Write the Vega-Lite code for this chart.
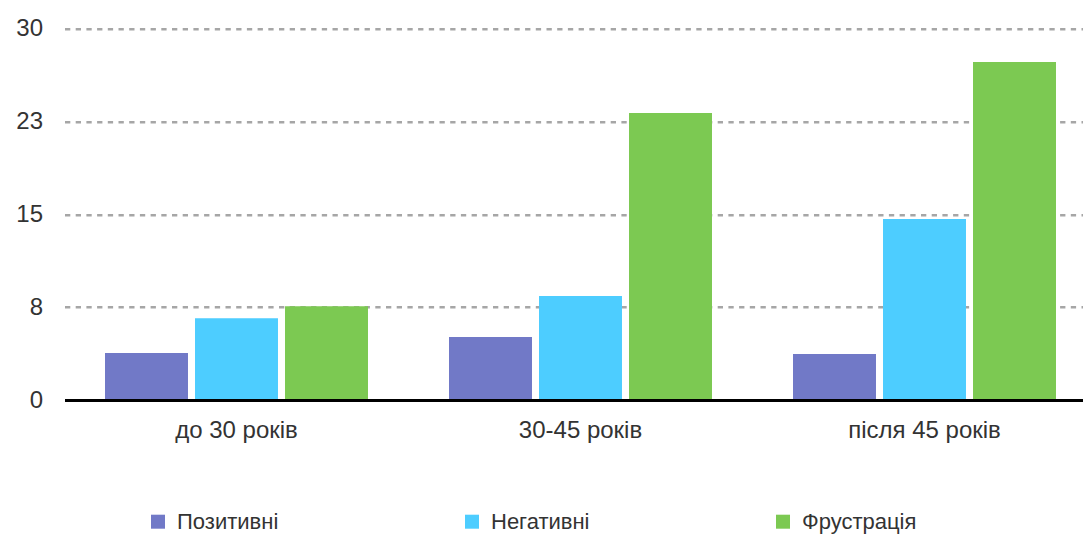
{
  "$schema": "https://vega.github.io/schema/vega-lite/v6.json",
  "width": 1032,
  "height": 371.3,
  "autosize": "none",
  "padding": {"left": 64.5, "top": 28.7, "right": 0, "bottom": 134},
  "background": "white",
  "config": {
    "view": {"stroke": null},
    "font": "Liberation Sans"
  },
  "data": {
    "values": [
      {"group": "до 30 років", "type": "Позитивні", "value": 3.8},
      {"group": "до 30 років", "type": "Негативні", "value": 6.6},
      {"group": "до 30 років", "type": "Фрустрація", "value": 7.58},
      {"group": "30-45 років", "type": "Позитивні", "value": 5.09},
      {"group": "30-45 років", "type": "Негативні", "value": 8.4},
      {"group": "30-45 років", "type": "Фрустрація", "value": 23.18},
      {"group": "після 45 років", "type": "Позитивні", "value": 3.72},
      {"group": "після 45 років", "type": "Негативні", "value": 14.62},
      {"group": "після 45 років", "type": "Фрустрація", "value": 27.3}
    ]
  },
  "mark": {"type": "bar"},
  "encoding": {
    "x": {
      "field": "group",
      "type": "nominal",
      "sort": ["до 30 років", "30-45 років", "після 45 років"],
      "scale": {"paddingInner": 0.2355, "paddingOuter": 0.11775},
      "axis": {
        "title": null,
        "labelAngle": 0,
        "domain": true,
        "domainColor": "#000000",
        "domainWidth": 3,
        "ticks": false,
        "labelPadding": 18,
        "labelFontSize": 24,
        "labelColor": "#333333",
        "zindex": 1
      }
    },
    "xOffset": {
      "field": "type",
      "type": "nominal",
      "sort": ["Позитивні", "Негативні", "Фрустрація"],
      "scale": {"paddingInner": 0.078, "paddingOuter": 0}
    },
    "y": {
      "field": "value",
      "type": "quantitative",
      "scale": {"domain": [0, 30], "nice": false},
      "axis": {
        "title": null,
        "values": [0, 7.5, 15, 22.5, 30],
        "format": ".0f",
        "domain": false,
        "ticks": false,
        "grid": true,
        "gridColor": "#A6A6A6",
        "gridWidth": 2.5,
        "gridDash": [5.3, 5.4],
        "labelPadding": 22,
        "labelFontSize": 24,
        "labelColor": "#333333"
      }
    },
    "color": {
      "field": "type",
      "type": "nominal",
      "sort": ["Позитивні", "Негативні", "Фрустрація"],
      "scale": {
        "domain": ["Позитивні", "Негативні", "Фрустрація"],
        "range": ["#7179C7", "#4DCDFF", "#7CC952"]
      },
      "legend": {
        "title": null,
        "orient": "none",
        "legendX": 82.5,
        "legendY": 482,
        "direction": "horizontal",
        "columnPadding": 182,
        "symbolType": "square",
        "symbolSize": 196,
        "symbolStrokeWidth": 0,
        "symbolOpacity": 1,
        "labelFontSize": 22,
        "labelColor": "#333333",
        "labelOffset": 8
      }
    }
  }
}
